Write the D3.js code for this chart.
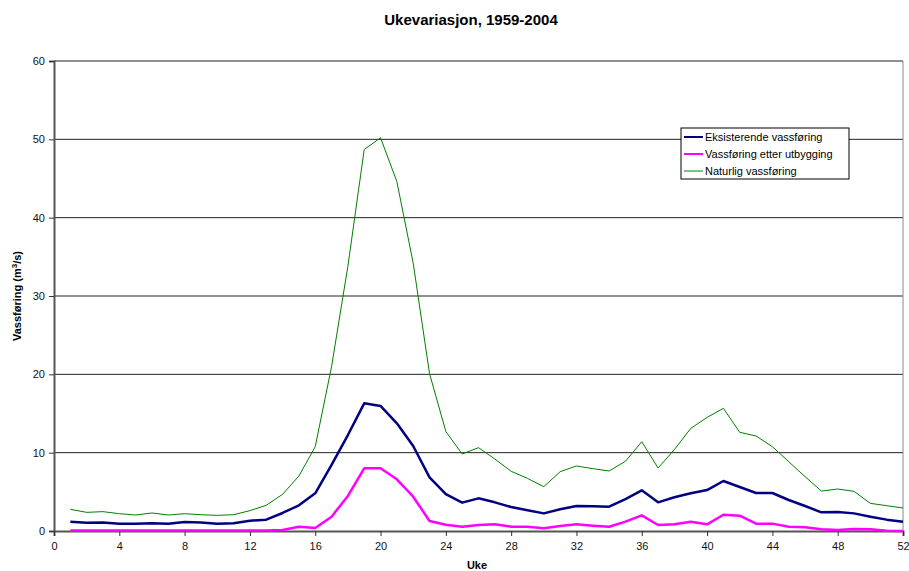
<!DOCTYPE html>
<html>
<head>
<meta charset="utf-8">
<script src="https://cdn.jsdelivr.net/npm/d3@7"></script>
<style>
  body { margin: 0; background: #fff; }
  svg { font-family: "Liberation Sans", Arial, sans-serif; }
</style>
</head>
<body>
<div id="chart"></div>
<script>
const weeks = d3.range(1, 53);

const eksisterende = [1.19, 1.06, 1.1, 0.94, 0.94, 1.0, 0.94, 1.15, 1.1, 0.94,
  0.98, 1.32, 1.45, 2.3, 3.28, 4.81, 8.43, 12.25, 16.3, 15.96,
  13.75, 10.85, 6.85, 4.72, 3.62, 4.17, 3.66, 3.06, 2.64, 2.25,
  2.77, 3.19, 3.15, 3.1, 4.08, 5.19, 3.66, 4.3, 4.81, 5.23,
  6.38, 5.62, 4.85, 4.85, 3.96, 3.19, 2.38, 2.43, 2.25, 1.83,
  1.45, 1.19];

const etterUtbygging = [0.05, 0.05, 0.05, 0.05, 0.05, 0.05, 0.05, 0.05, 0.05, 0.05,
  0.05, 0.05, 0.07, 0.13, 0.55, 0.38, 1.83, 4.47, 8.0, 8.0,
  6.6, 4.38, 1.28, 0.8, 0.55, 0.77, 0.85, 0.55, 0.55, 0.34,
  0.64, 0.85, 0.68, 0.55, 1.19, 2.0, 0.77, 0.87, 1.19, 0.85,
  2.08, 1.96, 0.94, 0.94, 0.55, 0.47, 0.21, 0.13, 0.26, 0.21,
  0.04, 0.0];

const naturlig = [2.77, 2.38, 2.47, 2.21, 2.04, 2.3, 2.04, 2.21, 2.08, 2.0,
  2.08, 2.6, 3.28, 4.68, 7.02, 10.76, 20.98, 33.8, 48.7, 50.2,
  44.6, 34.2, 20.1, 12.7, 9.83, 10.64, 9.19, 7.62, 6.72, 5.66,
  7.57, 8.3, 7.96, 7.66, 8.9, 11.4, 8.04, 10.4, 13.1, 14.5,
  15.66, 12.6, 12.13, 10.76, 8.85, 6.94, 5.1, 5.36, 5.06, 3.53,
  3.23, 2.94];

const xTicks = d3.range(0, 53, 4);
const yTicks = [0, 10, 20, 30, 40, 50, 60];

const series = [
  { name: 'Eksisterende vassføring', values: eksisterende, color: '#000080', width: 2.5 },
  { name: 'Vassføring etter utbygging', values: etterUtbygging, color: '#ff00ff', width: 2.5 },
  { name: 'Naturlig vassføring', values: naturlig, color: '#008000', width: 1 }
];

const width = 909, height = 571;
const margin = { top: 61, right: 6, bottom: 40, left: 54 };

const svg = d3.select('#chart').append('svg')
  .attr('width', width)
  .attr('height', height);

const x = d3.scaleLinear().domain([0, 52]).range([margin.left, width - margin.right]);
const y = d3.scaleLinear().domain([0, 60]).range([height - margin.bottom, margin.top]);

// gridlines
svg.append('g')
  .selectAll('line')
  .data(yTicks.filter(d => d > 0))
  .enter().append('line')
  .attr('x1', x(0))
  .attr('x2', x(52))
  .attr('y1', d => y(d))
  .attr('y2', d => y(d))
  .attr('stroke', '#222')
  .attr('stroke-width', 1);

// right border of plot area
svg.append('line')
  .attr('x1', x(52)).attr('x2', x(52))
  .attr('y1', y(60)).attr('y2', y(0))
  .attr('stroke', '#888')
  .attr('stroke-width', 1);

// axes
const yAxis = svg.append('g')
  .attr('transform', `translate(${x(0)},0)`)
  .call(d3.axisLeft(y).tickValues(yTicks).tickSize(5).tickPadding(4));

const xAxis = svg.append('g')
  .attr('transform', `translate(0,${y(0)})`)
  .call(d3.axisBottom(x).tickValues(xTicks).tickSize(5).tickPadding(6));

[yAxis, xAxis].forEach(a => {
  a.select('.domain').attr('stroke', '#555').attr('stroke-width', 2);
  a.selectAll('.tick line').attr('stroke', '#333');
  a.selectAll('.tick text')
    .attr('font-family', '"Liberation Sans", Arial, sans-serif')
    .attr('font-size', 11)
    .attr('fill', '#111');
});

// lines
const line = d3.line()
  .x((d, i) => x(weeks[i]))
  .y(d => y(d));

svg.append('g')
  .selectAll('path')
  .data(series.slice().reverse())
  .enter().append('path')
  .attr('d', d => line(d.values))
  .attr('fill', 'none')
  .attr('stroke', d => d.color)
  .attr('stroke-width', d => d.width)
  .attr('stroke-linejoin', 'round');

// title
svg.append('text')
  .attr('x', 471)
  .attr('y', 25)
  .attr('text-anchor', 'middle')
  .attr('font-size', 15)
  .attr('font-weight', 'bold')
  .text('Ukevariasjon, 1959-2004');

// y label
const yl = svg.append('text')
  .attr('transform', `translate(21,${(y(0) + y(60)) / 2}) rotate(-90)`)
  .attr('text-anchor', 'middle')
  .attr('font-size', 11)
  .attr('font-weight', 'bold');
yl.append('tspan').text('Vassføring (m');
yl.append('tspan').attr('font-size', 8).attr('dy', -4).text('3');
yl.append('tspan').attr('dy', 4).text('/s)');

// x label
svg.append('text')
  .attr('x', 477)
  .attr('y', 569)
  .attr('text-anchor', 'middle')
  .attr('font-size', 11)
  .attr('font-weight', 'bold')
  .text('Uke');

// legend
const legend = svg.append('g').attr('transform', 'translate(681,128)');
legend.append('rect')
  .attr('width', 168)
  .attr('height', 51)
  .attr('fill', '#fff')
  .attr('stroke', '#000')
  .attr('stroke-width', 1);

const items = legend.selectAll('g.item')
  .data(series)
  .enter().append('g')
  .attr('class', 'item')
  .attr('transform', (d, i) => `translate(0,${9 + i * 17})`);

items.append('line')
  .attr('x1', 3).attr('x2', 22)
  .attr('stroke', d => d.color)
  .attr('stroke-width', d => d.width === 1 ? 1 : 2);

items.append('text')
  .attr('x', 24)
  .attr('y', 4)
  .attr('font-size', 11)
  .text(d => d.name);
</script>
</body>
</html>
